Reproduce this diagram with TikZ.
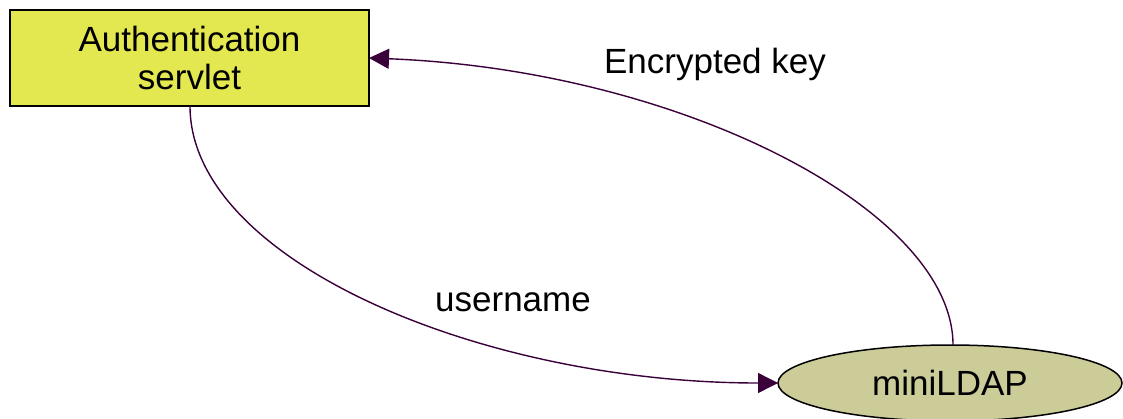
\documentclass[tikz,border=0pt]{standalone}
\usepackage{fontspec}
\setmainfont{Liberation Sans}
\usetikzlibrary{arrows.meta,shapes.geometric}
\definecolor{servletfill}{RGB}{228,232,80}
\definecolor{ldapfill}{RGB}{204,204,153}
\definecolor{flowline}{RGB}{58,0,58}
\tikzset{
  servlet/.style={draw=black, line width=1.5pt, fill=servletfill, minimum width=359pt, minimum height=96pt, align=center, inner sep=0pt, font=\fontsize{35}{38}\selectfont},
  ldap/.style={draw=black, line width=1.5pt, ellipse, fill=ldapfill, minimum width=344pt, minimum height=76pt, inner sep=0pt, font=\fontsize{35}{38}\selectfont},
  flow/.style={draw=flowline, line width=1.4pt, -{Triangle[length=20pt,width=20pt]}},
  lbl/.style={font=\fontsize{35}{38}\selectfont, inner sep=0pt}
}
\begin{document}
\begin{tikzpicture}[x=1pt,y=-1pt]
\useasboundingbox (0,0) rectangle (1123,418);
\begin{scope}
\clip (0,0) rectangle (1123,418);
\node[servlet] (auth) at (189.5,58) {Authentication\\servlet};
\node[ldap] (mini) at (950,383) {miniLDAP};
\end{scope}
\coordinate (authbot) at (190,106);
\coordinate (authright) at (369,58);
\coordinate (minitop) at (953,345);
\coordinate (minileft) at (778,383);
\draw[flow] (authbot) .. controls (190,260) and (480,383) .. (minileft);
\draw[flow] (minitop) .. controls (953,210) and (680,70) .. (authright);
\node[lbl] (enc) at (715,64) {Encrypted key};
\node[lbl] (user) at (513,302) {username};
\end{tikzpicture}
\end{document}
